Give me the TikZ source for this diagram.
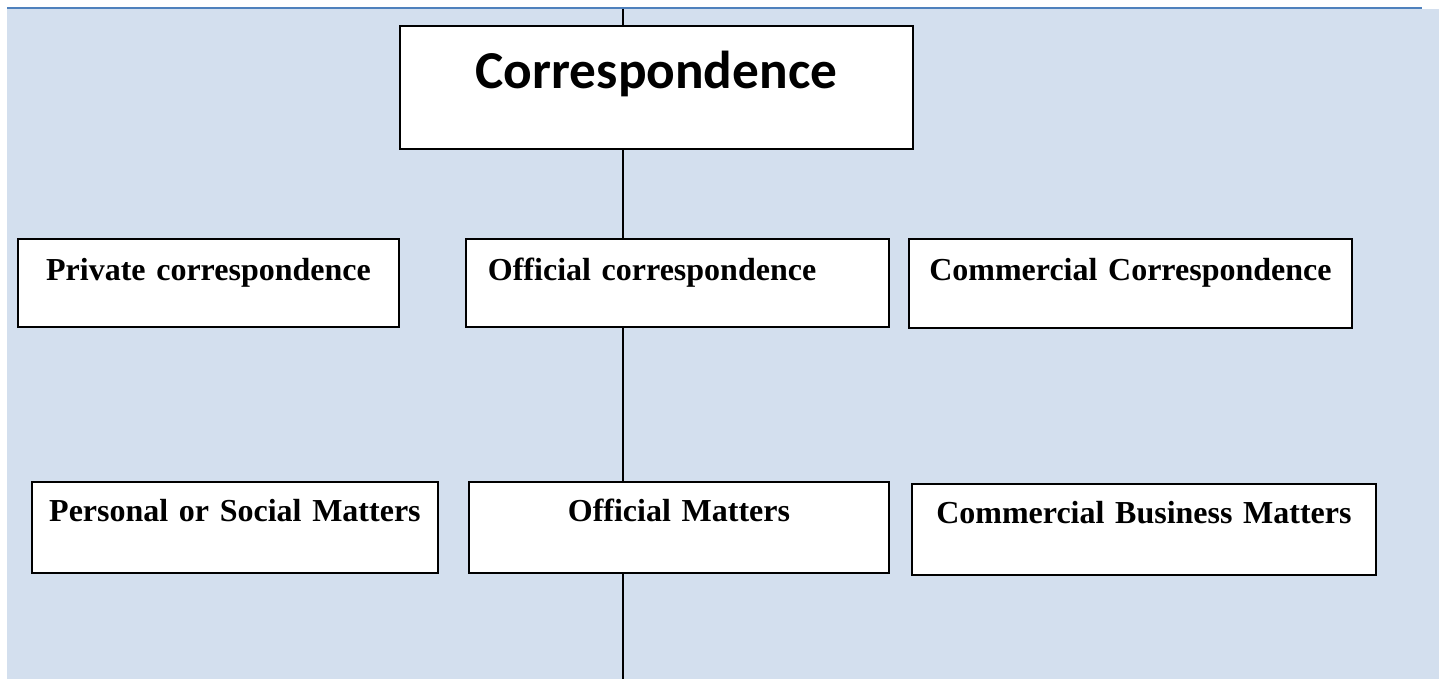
\documentclass[tikz,border=0pt]{standalone}
\usepackage{fontspec}
\setmainfont{Liberation Serif}
\newfontfamily\carlito{Carlito}
\usepackage{tikz}
\definecolor{sheetblue}{RGB}{211, 223, 238}
\definecolor{rulerblue}{RGB}{79, 129, 189}

\tikzset{
  box/.style={draw=black, line width=0.7pt, fill=white, inner sep=0pt, anchor=north west,
    align=center, font=\bfseries\fontsize{12}{14}\selectfont},
  rowone/.style={text height=15.75pt, text depth=17.25pt},
  rowtwo/.style={text height=15pt, text depth=19.1pt},
  link/.style={line width=0.75pt}
}

\begin{document}
\begin{tikzpicture}[x=0.375pt, y=-0.375pt]
    \useasboundingbox (0,0) rectangle (1439,679);
    % Page background
    \fill[sheetblue] (7,9) rectangle (1439,679);
    \draw[line width=0.8pt, color=rulerblue] (7,8) -- (1422,8);

    % Top box
    \node[box, text width=192.4pt, text height=23.6pt, text depth=22.5pt,
      font=\carlito\bfseries\fontsize{20}{24}\selectfont] (corr) at (399,25) {Correspondence};

    % First row
    \node[box, rowone, text width=142.9pt] (private) at (17,238) {Private correspondence};
    \node[box, rowone, text width=142.1pt, inner xsep=8.25pt, align=left] (official) at (465,238) {Official correspondence};
    \node[box, rowone, text width=166.1pt, text depth=17.6pt] (commercial) at (908,238) {Commercial Correspondence};

    % Second row
    \node[box, rowtwo, text width=152.25pt] (personal) at (31,481) {Personal or Social Matters};
    \node[box, rowtwo, text width=157.5pt] (offmatters) at (468,481) {Official Matters};
    \node[box, rowtwo, text width=174pt] (business) at (911,483) {Commercial Business Matters};

    % Spine
    \coordinate (spine) at (623,9);
    \coordinate (spineend) at (623,679);
    \draw[link] (spine) -- (spine |- corr.north);
    \draw[link] (spine |- corr.south) -- (spine |- official.north);
    \draw[link] (spine |- official.south) -- (spine |- offmatters.north);
    \draw[link] (spine |- offmatters.south) -- (spineend);
\end{tikzpicture}
\end{document}
